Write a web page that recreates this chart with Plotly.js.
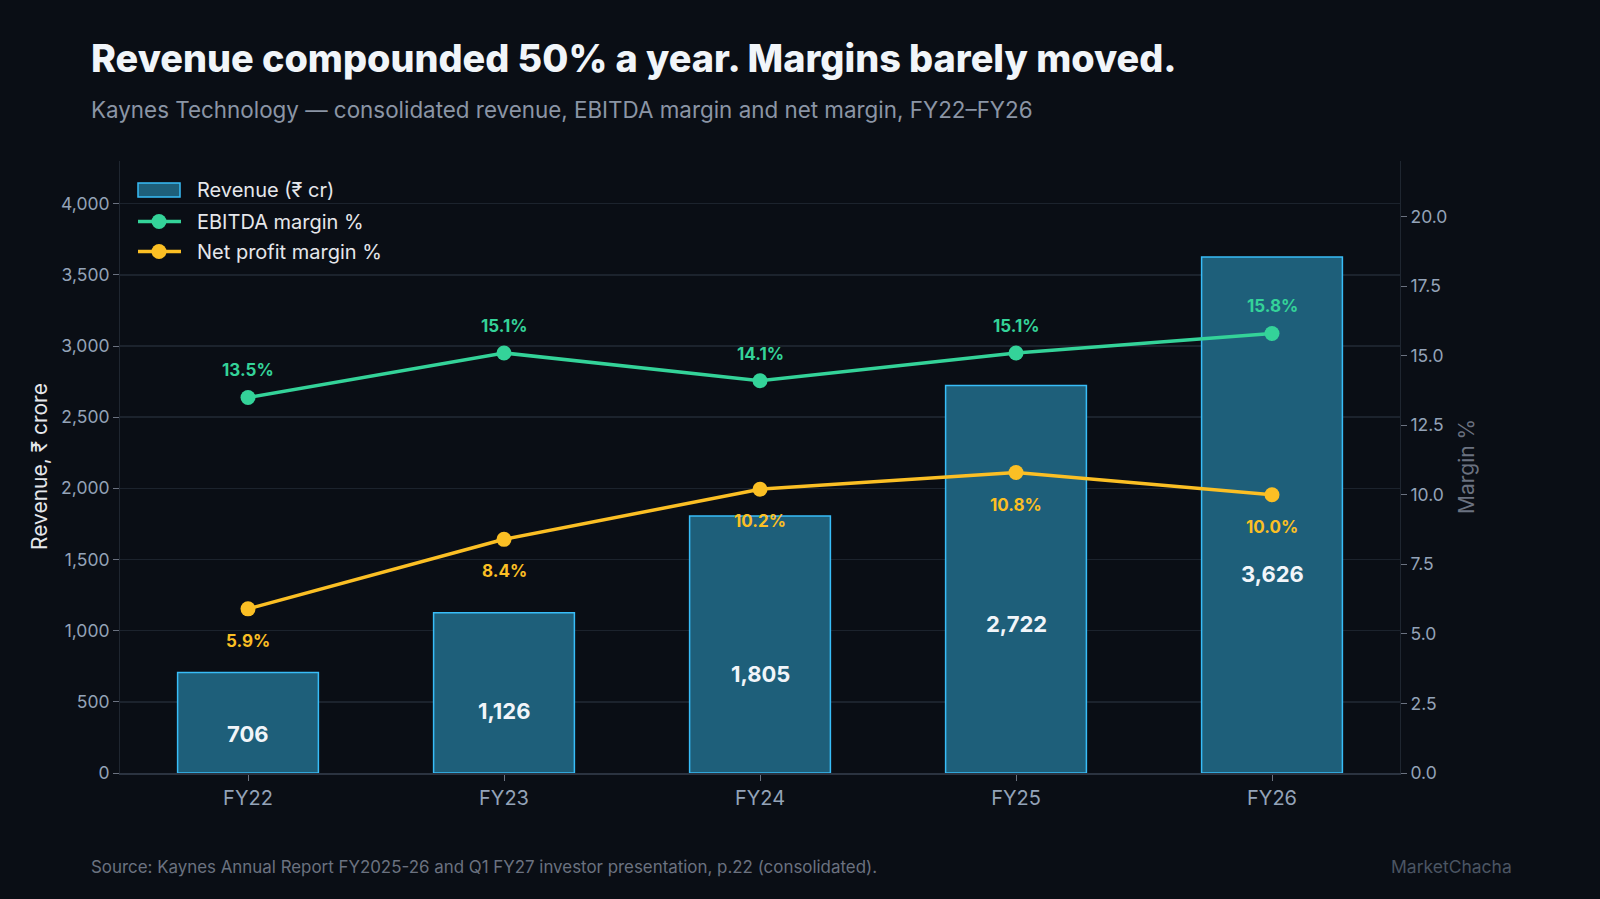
<!DOCTYPE html>
<html>
<head>
<meta charset="utf-8">
<script src="https://cdn.plot.ly/plotly-3.0.1.min.js"></script>
<style>
html,body{margin:0;padding:0;background:#0a0e15;}
#chart{width:1600px;height:899px;}
</style>
</head>
<body>
<div id="chart"></div>
<script>
const years = ["FY22","FY23","FY24","FY25","FY26"];
const revenue = [706, 1126, 1805, 2722, 3626];
const ebitdaMargin = [13.5, 15.1, 14.1, 15.1, 15.8];
const netMargin = [5.9, 8.4, 10.2, 10.8, 10.0];
const leftTicks = [0, 500, 1000, 1500, 2000, 2500, 3000, 3500, 4000];
const rightTicks = [0, 2.5, 5, 7.5, 10, 12.5, 15, 17.5, 20];
const seriesNames = ["Revenue (₹ cr)", "EBITDA margin %", "Net profit margin %"];

const FONT = "Inter, 'Open Sans', 'Noto Sans', sans-serif";
const GREEN = "#34d399";
const YELLOW = "#fbbf24";
const BARFILL = "#1e5f7a";
const BAREDGE = "#38bdf8";

// plot area in pixels
const M = {l: 120, r: 200, t: 161, b: 126};
const W = 1600, H = 899;
const PW = W - M.l - M.r, PH = H - M.t - M.b;
const px = p => (p - M.l) / PW;
const py = p => (H - M.b - p) / PH;

const traces = [
  {
    type: "bar", x: years, y: revenue, name: seriesNames[0],
    marker: {color: BARFILL, line: {color: BAREDGE, width: 1.5}},
    width: 0.55, hoverinfo: "skip"
  },
  {
    type: "scatter", mode: "lines+markers", x: years, y: ebitdaMargin, yaxis: "y2",
    name: seriesNames[1],
    line: {color: GREEN, width: 3.5}, marker: {color: GREEN, size: 15}, hoverinfo: "skip"
  },
  {
    type: "scatter", mode: "lines+markers", x: years, y: netMargin, yaxis: "y2",
    name: seriesNames[2],
    line: {color: YELLOW, width: 3.5}, marker: {color: YELLOW, size: 15}, hoverinfo: "skip"
  }
];

const annotations = [];
years.forEach((yr, i) => {
  annotations.push({
    x: yr, y: revenue[i] * 0.385, xref: "x", yref: "y",
    text: revenue[i].toLocaleString("en-US"), showarrow: false,
    font: {family: FONT, size: 22, color: "#f1f5f9", weight: 700}
  });
  annotations.push({
    x: yr, y: ebitdaMargin[i], xref: "x", yref: "y2", yshift: 27,
    text: ebitdaMargin[i].toFixed(1) + "%", showarrow: false,
    font: {family: FONT, size: 17, color: GREEN, weight: 700}
  });
  annotations.push({
    x: yr, y: netMargin[i], xref: "x", yref: "y2", yshift: -32,
    text: netMargin[i].toFixed(1) + "%", showarrow: false,
    font: {family: FONT, size: 17, color: YELLOW, weight: 700}
  });
});

function txt(x, y, text, size, color, opts) {
  annotations.push(Object.assign({
    xref: "paper", yref: "paper", x: px(x), y: py(y), xanchor: "left", yanchor: "middle",
    text: text, showarrow: false, font: {family: FONT, size: size, color: color}
  }, opts || {}));
}

txt(89, 58, "Revenue compounded 50% a year. Margins barely moved.", 37.8, "#f1f5f9");
annotations[annotations.length - 1].font.weight = 800;
txt(89, 109, "Kaynes Technology — consolidated revenue, EBITDA margin and net margin, FY22–FY26", 22.4, "#8b95a5");
txt(89, 867, "Source: Kaynes Annual Report FY2025-26 and Q1 FY27 investor presentation, p.22 (consolidated).", 16.9, "#6b7280");
txt(1514, 867, "MarketChacha", 17.5, "#4b5563", {xanchor: "right"});
txt(39, 467, "Revenue, ₹ crore", 21, "#e5e7eb", {xanchor: "center", textangle: -90});
txt(1466, 467, "Margin %", 21, "#6b7280", {xanchor: "center", textangle: -90});

// custom legend
const legY = [190, 221.5, 251.5];
const legColors = [null, GREEN, YELLOW];
const shapes = [];
shapes.push({
  type: "rect", xref: "paper", yref: "paper",
  x0: px(138), x1: px(180), y0: py(183), y1: py(197),
  fillcolor: BARFILL, line: {color: BAREDGE, width: 1.5}
});
for (let k = 1; k < 3; k++) {
  shapes.push({
    type: "line", xref: "paper", yref: "paper",
    x0: px(138), x1: px(181), y0: py(legY[k]), y1: py(legY[k]),
    line: {color: legColors[k], width: 3.5}
  });
  shapes.push({
    type: "circle", xref: "paper", yref: "paper",
    x0: px(151.5), x1: px(166.5), y0: py(legY[k] - 7.5), y1: py(legY[k] + 7.5),
    fillcolor: legColors[k], line: {color: legColors[k], width: 0}
  });
}
seriesNames.forEach((n, k) => txt(195, legY[k], n, 20, "#e5e7eb"));

const layout = {
  width: W, height: H,
  paper_bgcolor: "#0a0e15", plot_bgcolor: "#0a0e15",
  margin: M,
  font: {family: FONT, color: "#94a3b8"},
  showlegend: false,
  xaxis: {
    categoryorder: "array", categoryarray: years,
    showgrid: false, showline: true, linecolor: "#2b3340", linewidth: 1.5,
    ticks: "outside", ticklen: 6, tickcolor: "#6b7280",
    tickfont: {family: FONT, size: 20, color: "#94a3b8"},
    zeroline: false
  },
  yaxis: {
    range: [0, 4300], tickvals: leftTicks,
    ticktext: leftTicks.map(v => v.toLocaleString("en-US")),
    showgrid: true, gridcolor: "#1c232d", gridwidth: 1.5,
    showline: true, linecolor: "#1f2630", linewidth: 1,
    ticks: "outside", ticklen: 6, tickcolor: "#6b7280",
    tickfont: {family: FONT, size: 17.5, color: "#94a3b8"},
    zeroline: false
  },
  yaxis2: {
    overlaying: "y", side: "right", range: [0, 22], tickvals: rightTicks,
    ticktext: rightTicks.map(v => v.toFixed(1)),
    showgrid: false, showline: true, linecolor: "#1f2630", linewidth: 1,
    ticks: "outside", ticklen: 6, tickcolor: "#6b7280",
    tickfont: {family: FONT, size: 17.5, color: "#94a3b8"},
    zeroline: false
  },
  shapes: shapes,
  annotations: annotations
};

Plotly.newPlot("chart", traces, layout, {displayModeBar: false, staticPlot: true});
</script>
</body>
</html>
